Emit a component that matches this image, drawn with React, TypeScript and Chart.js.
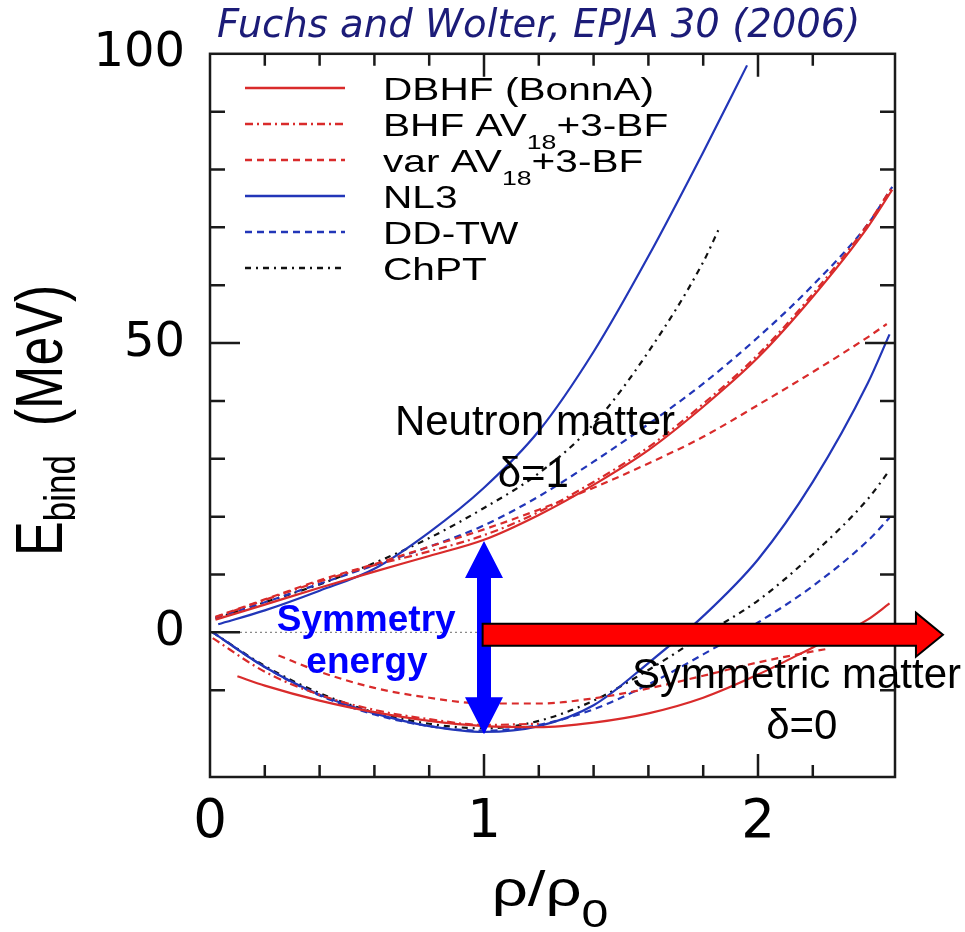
import React, { useEffect, useRef } from 'react';
import { Chart, registerables } from 'chart.js';

Chart.register(...registerables);

// ---------------- data (rho/rho0, MeV) ----------------
const X_LABELED = [0, 1, 2];
const Y_LABELED = [0, 50, 100];

// neutron matter (delta = 1)
const dbhfNeutron = [[0.02, 2.2], [0.2, 4.8], [0.4, 7.7], [0.6, 10.5], [0.8, 13.2], [1.0, 16], [1.2, 20.3], [1.4, 25.5], [1.6, 31.5], [1.8, 39], [2.0, 47.5], [2.2, 58], [2.4, 70], [2.49, 76.5]];
const bhfNeutron = [[0.02, 2.6], [0.2, 5.6], [0.4, 8.8], [0.6, 11.6], [0.8, 14], [1.0, 16.8], [1.2, 20.8], [1.4, 26], [1.6, 32], [1.8, 39.5], [2.0, 48], [2.2, 58.5], [2.4, 70.5], [2.49, 77]];
const varNeutron = [[0.02, 2.7], [0.2, 5.7], [0.4, 9], [0.6, 11.8], [0.8, 14.8], [1.0, 17.8], [1.2, 21.2], [1.4, 25], [1.6, 29.2], [1.8, 33.8], [2.0, 39.3], [2.2, 45], [2.4, 51], [2.47, 53.3]];
const nl3Neutron = [[0.03, 1.4], [0.2, 3.8], [0.4, 7.2], [0.6, 11], [0.8, 17.3], [1.0, 25], [1.2, 34.8], [1.4, 48.5], [1.6, 65], [1.8, 83], [1.96, 98]];
const ddtwNeutron = [[0.02, 2.5], [0.2, 5.2], [0.4, 8.4], [0.6, 11.6], [0.8, 14.8], [1.0, 18.5], [1.2, 23.5], [1.4, 29.5], [1.6, 36], [1.8, 43], [2.0, 51], [2.2, 60], [2.4, 70.5], [2.49, 77]];
const chptNeutron = [[0.02, 2.4], [0.2, 5.2], [0.4, 8.3], [0.6, 12], [0.8, 16.3], [1.0, 21.5], [1.2, 27.5], [1.4, 36], [1.6, 48.5], [1.8, 64], [1.855, 69.5]];

// symmetric matter (delta = 0)
const dbhfSymmetric = [[0.1, -7.6], [0.2, -9.2], [0.4, -11.8], [0.6, -13.8], [0.8, -15.3], [1.0, -16.2], [1.2, -16.4], [1.4, -15.6], [1.6, -14], [1.8, -11.3], [2.0, -7.3], [2.2, -2.6], [2.4, 2.2], [2.48, 5]];
const bhfSymmetric = [[0.01, -1], [0.2, -6.8], [0.4, -10.8], [0.6, -13.4], [0.8, -15], [1.0, -16], [1.2, -15.8]];
const varSymmetric = [[0.25, -4], [0.4, -6.8], [0.6, -9.6], [0.8, -11.3], [1.0, -12.3], [1.2, -12.3], [1.4, -11.4], [1.6, -9.7], [1.8, -7.5], [2.0, -5.2], [2.2, -3.3], [2.26, -2.8]];
const nl3Symmetric = [[0.01, 0], [0.2, -6], [0.4, -10.8], [0.6, -14], [0.8, -16.2], [1.0, -17.2], [1.2, -16.2], [1.4, -12.6], [1.6, -5.3], [1.8, 2.8], [2.0, 12.6], [2.2, 26], [2.4, 43], [2.48, 51.5]];
const ddtwSymmetric = [[0.01, 0], [0.2, -6], [0.4, -10.9], [0.6, -14.2], [0.8, -16.2], [1.0, -17], [1.2, -16], [1.4, -13.3], [1.6, -9], [1.8, -3.8], [2.0, 1.7], [2.2, 8], [2.4, 15.8], [2.48, 19.8]];
const chptSymmetric = [[0.01, 0], [0.2, -5.8], [0.4, -10.5], [0.6, -13.8], [0.8, -15.8], [1.0, -16.6], [1.2, -15.3], [1.4, -11.8], [1.6, -6.5], [1.8, -0.5], [2.0, 5.5], [2.2, 13.5], [2.4, 23], [2.48, 28]];

const LEGEND_LABELS = ['DBHF (BonnA)', 'BHF AV_{18}+3-BF', 'var AV_{18}+3-BF', 'NL3', 'DD-TW', 'ChPT'];

// annotation anchors in data units
const BLUE_ARROW = { x: 1, yTop: 15.8, yBottom: -17.6 };
const RED_ARROW = { x0: 0.995, x1: 2.675, y: -0.4 };

// ---------------- styles ----------------
const RED = '#d92b2b';
const BLUE = '#2236b8';
const BLACK = '#111111';
const SANS = '"Liberation Sans", Arial, Helvetica, sans-serif';
const STRETCH = 1.27;

const MODELS = [
  { neutron: dbhfNeutron, symmetric: dbhfSymmetric, color: RED, dash: [] as number[] },
  { neutron: bhfNeutron, symmetric: bhfSymmetric, color: RED, dash: [8, 4, 2, 4] },
  { neutron: varNeutron, symmetric: varSymmetric, color: RED, dash: [7, 5] },
  { neutron: nl3Neutron, symmetric: nl3Symmetric, color: BLUE, dash: [] as number[] },
  { neutron: ddtwNeutron, symmetric: ddtwSymmetric, color: BLUE, dash: [7, 5] },
  { neutron: chptNeutron, symmetric: chptSymmetric, color: BLACK, dash: [6, 5, 2, 5] },
];

type Seg = { t: string; sub: boolean };
function parseRich(s: string): Seg[] {
  const out: Seg[] = [];
  const re = /_\{([^}]*)\}/g;
  let last = 0;
  let m: RegExpExecArray | null;
  while ((m = re.exec(s))) {
    if (m.index > last) out.push({ t: s.slice(last, m.index), sub: false });
    out.push({ t: m[1], sub: true });
    last = re.lastIndex;
  }
  if (last < s.length) out.push({ t: s.slice(last), sub: false });
  return out;
}

function drawRich(ctx: CanvasRenderingContext2D, text: string, x: number, y: number, o: any) {
  const parts = parseRich(text);
  ctx.save();
  ctx.translate(x, y);
  if (o.rotate) ctx.rotate(o.rotate);
  ctx.scale(o.sx ?? 1, o.sy ?? 1);
  const fontFor = (sub: boolean) =>
    `${o.style ?? 'normal'} ${o.weight ?? 'normal'} ${sub ? o.subSize ?? o.size : o.size}px ${o.family ?? SANS}`;
  let total = 0;
  const ws = parts.map((p) => {
    ctx.font = fontFor(p.sub);
    const w = ctx.measureText(p.t).width;
    total += w;
    return w;
  });
  let cx = o.align === 'center' ? -total / 2 : o.align === 'right' ? -total : 0;
  ctx.fillStyle = o.color ?? '#000';
  ctx.textBaseline = 'alphabetic';
  ctx.textAlign = 'left';
  parts.forEach((p, i) => {
    ctx.font = fontFor(p.sub);
    ctx.fillText(p.t, cx, p.sub ? o.subShift ?? 0 : 0);
    cx += ws[i];
  });
  ctx.restore();
}

const near = (v: number, k: number) => Math.abs(v - k) < 1e-6;

const decorPlugin = {
  id: 'decor',
  beforeDatasetsDraw(chart: any) {
    const { ctx, scales } = chart;
    const xs = scales.x, ys = scales.y;
    ctx.save();
    ctx.strokeStyle = '#8a8a8a';
    ctx.lineWidth = 1.2;
    ctx.setLineDash([2, 3]);
    ctx.beginPath();
    ctx.moveTo(xs.getPixelForValue(0), ys.getPixelForValue(0));
    ctx.lineTo(xs.getPixelForValue(2.5), ys.getPixelForValue(0));
    ctx.stroke();
    ctx.restore();
  },
  afterDatasetsDraw(chart: any) {
    const { ctx, chartArea, scales } = chart;
    const xs = scales.x, ys = scales.y;
    const { left, right, top, bottom } = chartArea;

    // frame + inward ticks on all sides
    ctx.save();
    ctx.strokeStyle = '#1a1a1a';
    ctx.lineWidth = 2.5;
    ctx.setLineDash([]);
    ctx.strokeRect(left, top, right - left, bottom - top);
    ctx.beginPath();
    xs.ticks.forEach((t: any) => {
      const v = t.value;
      if (!near(v * 5, Math.round(v * 5)) || v <= 0 || v >= 2.5) return;
      const px = xs.getPixelForValue(v);
      const L = near(v, Math.round(v)) ? 23 : 12;
      ctx.moveTo(px, bottom); ctx.lineTo(px, bottom - L);
      ctx.moveTo(px, top); ctx.lineTo(px, top + L);
    });
    ys.ticks.forEach((t: any) => {
      const v = t.value;
      if (!near(v / 10, Math.round(v / 10)) || v <= -25 || v >= 100) return;
      const py = ys.getPixelForValue(v);
      const L = near(v / 50, Math.round(v / 50)) ? 30 : 15;
      ctx.moveTo(left, py); ctx.lineTo(left + L, py);
      ctx.moveTo(right, py); ctx.lineTo(right - L, py);
    });
    ctx.stroke();
    ctx.restore();

    // legend
    const neutronSets = chart.data.datasets.filter((d: any) => d.legendText);
    neutronSets.forEach((d: any, i: number) => {
      const y = 88 + 36 * i;
      ctx.save();
      ctx.strokeStyle = d.borderColor;
      ctx.lineWidth = 2.5;
      ctx.setLineDash(d.borderDash || []);
      ctx.beginPath();
      ctx.moveTo(245, y);
      ctx.lineTo(345, y);
      ctx.stroke();
      ctx.restore();
      drawRich(ctx, d.legendText, 383, y + 11.5, { size: 32, subSize: 21, subShift: 13, sx: STRETCH });
    });

    // blue double arrow (symmetry energy)
    {
      const x = xs.getPixelForValue(BLUE_ARROW.x);
      const t = ys.getPixelForValue(BLUE_ARROW.yTop);
      const b = ys.getPixelForValue(BLUE_ARROW.yBottom);
      const hl = 37, hh = 19, sh = 7;
      ctx.save();
      ctx.fillStyle = '#0000ff';
      ctx.beginPath();
      ctx.moveTo(x, t);
      ctx.lineTo(x + hh, t + hl); ctx.lineTo(x + sh, t + hl);
      ctx.lineTo(x + sh, b - hl); ctx.lineTo(x + hh, b - hl);
      ctx.lineTo(x, b);
      ctx.lineTo(x - hh, b - hl); ctx.lineTo(x - sh, b - hl);
      ctx.lineTo(x - sh, t + hl); ctx.lineTo(x - hh, t + hl);
      ctx.closePath();
      ctx.fill();
      ctx.restore();
    }
    // red arrow (towards high density)
    {
      const x0 = xs.getPixelForValue(RED_ARROW.x0);
      const x1 = xs.getPixelForValue(RED_ARROW.x1);
      const y = ys.getPixelForValue(RED_ARROW.y);
      const sh = 11, hh = 22, hl = 27;
      ctx.save();
      ctx.fillStyle = '#ff0000';
      ctx.strokeStyle = '#000';
      ctx.lineWidth = 2;
      ctx.beginPath();
      ctx.moveTo(x0, y - sh);
      ctx.lineTo(x1 - hl, y - sh); ctx.lineTo(x1 - hl, y - hh);
      ctx.lineTo(x1, y);
      ctx.lineTo(x1 - hl, y + hh); ctx.lineTo(x1 - hl, y + sh);
      ctx.lineTo(x0, y + sh);
      ctx.closePath();
      ctx.fill();
      ctx.stroke();
      ctx.restore();
    }

    // text annotations
    const P = (x: number, y: number) => [xs.getPixelForValue(x), ys.getPixelForValue(y)];
    let [ax, ay] = P(1.186, 34.1);
    drawRich(ctx, 'Neutron matter', ax, ay, { size: 42, align: 'center' });
    [ax, ay] = P(1.18, 25.2);
    drawRich(ctx, 'δ=1', ax, ay, { size: 42, align: 'center' });
    [ax, ay] = P(1.54, -9.6);
    drawRich(ctx, 'Symmetric matter', ax, ay, { size: 42, align: 'left' });
    [ax, ay] = P(2.16, -18.5);
    drawRich(ctx, 'δ=0', ax, ay, { size: 42, align: 'center' });
    [ax, ay] = P(0.57, 0.3);
    drawRich(ctx, 'Symmetry', ax, ay, { size: 37, weight: 'bold', color: '#0000ff', align: 'center' });
    [ax, ay] = P(0.573, -7.0);
    drawRich(ctx, 'energy', ax, ay, { size: 37, weight: 'bold', color: '#0000ff', align: 'center' });

    // title & axis titles
    drawRich(ctx, 'Fuchs and Wolter, EPJA 30 (2006)', 217, 37, {
      size: 38.6, style: 'italic', family: '"DejaVu Sans", Verdana, sans-serif', color: '#1c1c78',
    });
    drawRich(ctx, 'E_{bind}  (MeV)', 62, 556, { size: 52, subSize: 35, subShift: 10, rotate: -Math.PI / 2, sy: STRETCH });
    drawRich(ctx, 'ρ/ρ_{0}', 550, 906, { size: 50, subSize: 38, subShift: 21, sx: STRETCH, align: 'center' });
  },
};

export default function App() {
  const ref = useRef<HTMLCanvasElement | null>(null);
  useEffect(() => {
    if (!ref.current) return;
    const datasets: any[] = [];
    MODELS.forEach((m, i) => {
      datasets.push({
        data: m.neutron.map(([x, y]) => ({ x, y })),
        legendText: LEGEND_LABELS[i],
        borderColor: m.color,
        borderDash: m.dash,
        borderWidth: 2.2,
        pointRadius: 0,
        fill: false,
        cubicInterpolationMode: 'monotone',
      });
    });
    MODELS.forEach((m) => {
      datasets.push({
        data: m.symmetric.map(([x, y]) => ({ x, y })),
        borderColor: m.color,
        borderDash: m.dash,
        borderWidth: 2.2,
        pointRadius: 0,
        fill: false,
        cubicInterpolationMode: 'monotone',
      });
    });
    const chart = new Chart(ref.current, {
      type: 'line',
      data: { datasets },
      options: {
        responsive: false,
        maintainAspectRatio: false,
        animation: false,
        layout: { padding: { top: 48, right: 70, left: 0, bottom: 0 } },
        plugins: { legend: { display: false }, tooltip: { enabled: false }, title: { display: false } },
        scales: {
          x: {
            type: 'linear',
            min: 0,
            max: 2.5,
            grid: { display: false, drawTicks: false },
            border: { display: false },
            ticks: {
              stepSize: 0.2,
              autoSkip: false,
              maxRotation: 0,
              padding: 14,
              color: '#000',
              font: { family: '"DejaVu Sans", sans-serif', size: 53 },
              callback: (v: any) => {
                const n = Number(v);
                const hit = X_LABELED.find((k) => near(n, k));
                return hit === undefined ? '' : String(hit);
              },
            },
            afterFit: (a: any) => { a.height = 155; },
          },
          y: {
            type: 'linear',
            min: -25,
            max: 100,
            grid: { display: false, drawTicks: false },
            border: { display: false },
            ticks: {
              stepSize: 10,
              autoSkip: false,
              padding: 25,
              color: '#000',
              font: { family: '"DejaVu Sans", sans-serif', size: 48 },
              callback: (v: any) => {
                const n = Number(v);
                const hit = Y_LABELED.find((k) => near(n, k));
                return hit === undefined ? '' : String(hit);
              },
            },
            afterFit: (a: any) => { a.width = 210; },
          },
        },
      } as any,
      plugins: [decorPlugin],
    });
    return () => chart.destroy();
  }, []);
  return (
    <div style={{ position: 'absolute', left: 0, top: 0, width: 965, height: 932, background: '#fff' }}>
      <canvas ref={ref} width={965} height={932} style={{ display: 'block' }} />
    </div>
  );
}
